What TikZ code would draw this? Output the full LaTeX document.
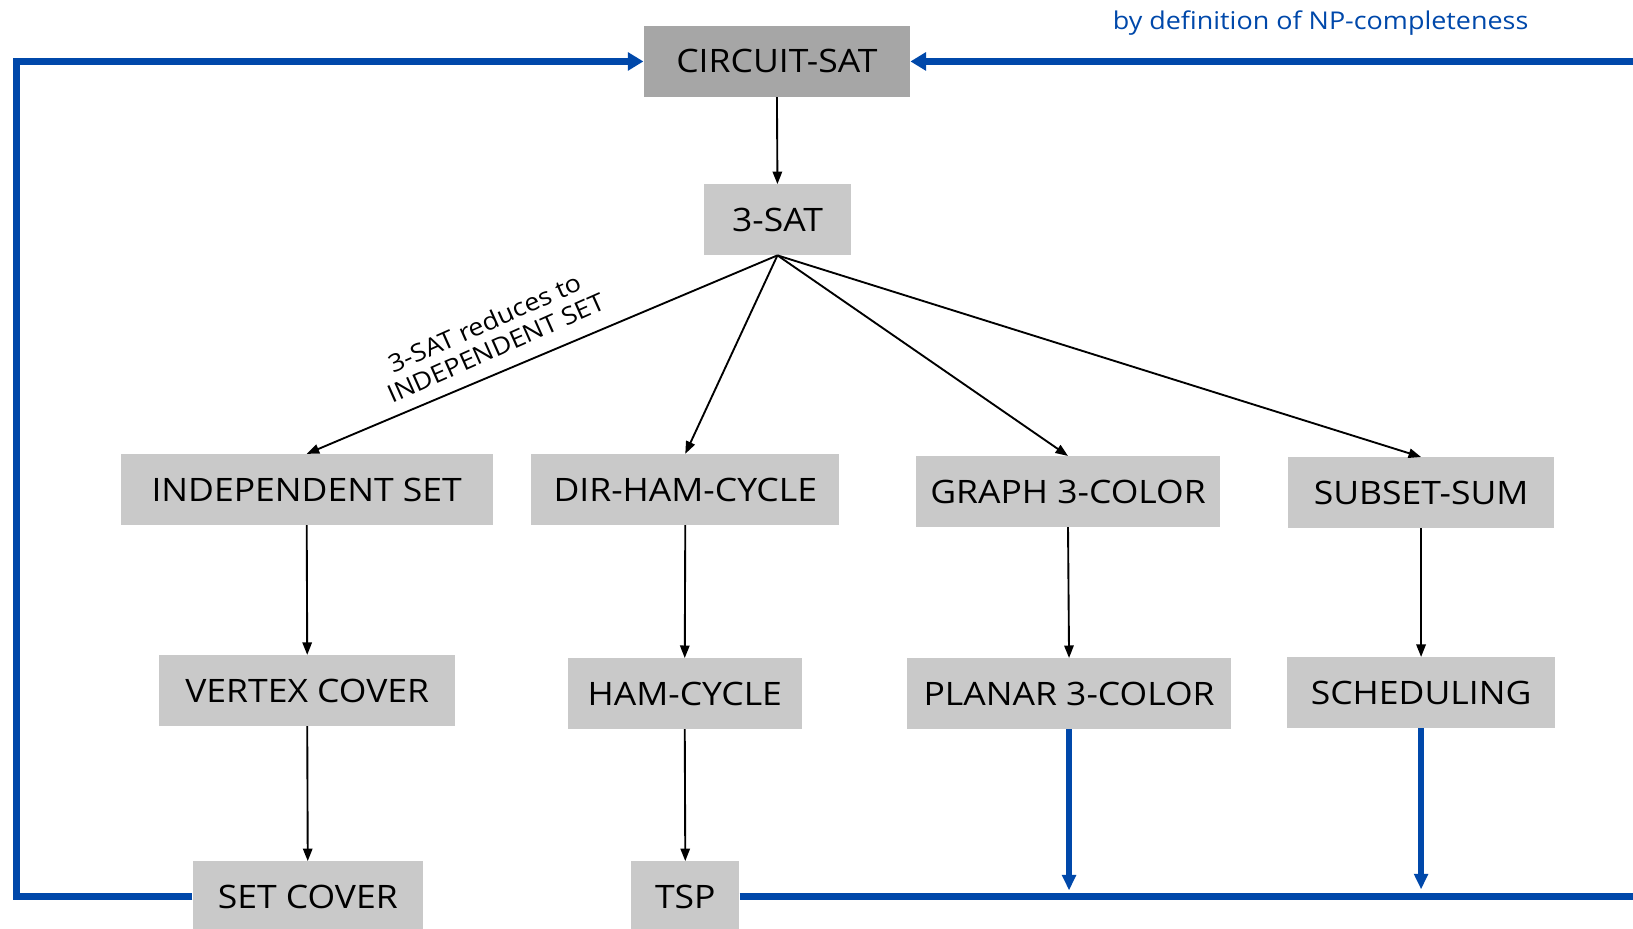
\documentclass[tikz,border=0pt]{standalone}
\usepackage{fontspec}
\setmainfont[FakeStretch=1.1]{Open Sans}
\usetikzlibrary{arrows.meta}
\definecolor{npblue}{RGB}{0,72,170}
\definecolor{boxgray}{RGB}{201,201,201}
\definecolor{darkgray}{RGB}{166,166,166}
\tikzset{
  prob/.style={fill=boxgray, draw=none, minimum height=68pt, inner sep=0pt,
    font=\fontsize{31}{35}\selectfont, text=black},
  red/.style={draw=black, line width=1.8pt, -{Triangle[length=12pt,width=9pt]}},
  bluearrow/.style={draw=npblue, line width=7pt, -{Triangle[length=15pt,width=17pt]}},
  bluedown/.style={draw=npblue, line width=6pt, -{Triangle[length=15pt,width=13pt]}},
  blueline/.style={draw=npblue, line width=7pt},
}
\begin{document}
\begin{tikzpicture}[x=1pt,y=-1pt]
\useasboundingbox (0,0) rectangle (1568,892);
\clip (0,0) rectangle (1568,892);
% nodes
\node[prob, fill=darkgray, minimum width=256pt] (cs) at (746,59) {CIRCUIT-SAT};
\node[prob, minimum width=141pt] (sat) at (746.5,211) {3-SAT};
\node[prob, minimum width=357pt] (is) at (294.5,470) {INDEPENDENT SET};
\node[prob, minimum width=296pt] (dhc) at (658,470) {DIR-HAM-CYCLE};
\node[prob, minimum width=291pt] (g3c) at (1025.5,472) {GRAPH 3-COLOR};
\node[prob, minimum width=255pt] (ss) at (1364.5,473) {SUBSET-SUM};
\node[prob, minimum width=284pt] (vc) at (295,663) {VERTEX COVER};
\node[prob, minimum width=225pt] (hc) at (657.5,666) {HAM-CYCLE};
\node[prob, minimum width=311pt] (p3c) at (1026.5,666) {PLANAR 3-COLOR};
\node[prob, minimum width=257pt] (sch) at (1364.5,665) {SCHEDULING};
\node[prob, minimum width=221pt] (sc) at (295.5,861) {SET COVER};
\node[prob, minimum width=104pt] (tsp) at (658,861) {TSP};
% coordinates for the blue frame
\coordinate (tl) at (16,59);
\coordinate (bl) at (16,861);
\coordinate (tr) at (1600,59);
\coordinate (br) at (1600,861);
\coordinate (p3cend) at (1026.5,855);
\coordinate (schend) at (1364.5,854);
% black reductions
\draw[red] (cs.south) -- (sat.north);
\draw[red] (sat.south) -- (is.north);
\draw[red] (sat.south) -- (dhc.north);
\draw[red] (sat.south) -- (g3c.north);
\draw[red] (sat.south) -- (ss.north);
\draw[red] (is.south) -- (vc.north);
\draw[red] (vc.south) -- (sc.north);
\draw[red] (dhc.south) -- (hc.north);
\draw[red] (hc.south) -- (tsp.north);
\draw[red] (g3c.south) -- (p3c.north);
\draw[red] (ss.south) -- (sch.north);
% edge label
\node[rotate=24, align=center, font=\fontsize{23.5}{26}\selectfont, inner sep=0pt] (lbl) at (471,322)
  {3-SAT reduces to\\INDEPENDENT SET};
% blue frame
\draw[bluearrow] (sc.west) -- (bl) -- (tl) -- (cs.west);
\draw[bluearrow] (tr) -- (cs.east);
\draw[blueline] (tsp.east) -- (br);
\draw[bluedown] (p3c.south) -- (p3cend);
\draw[bluedown] (sch.south) -- (schend);
\node[text=npblue, font=\fontsize{23.5}{26}\selectfont, inner sep=0pt, anchor=center] (def) at (1268,22) {by definition of NP-completeness};
\end{tikzpicture}
\end{document}
